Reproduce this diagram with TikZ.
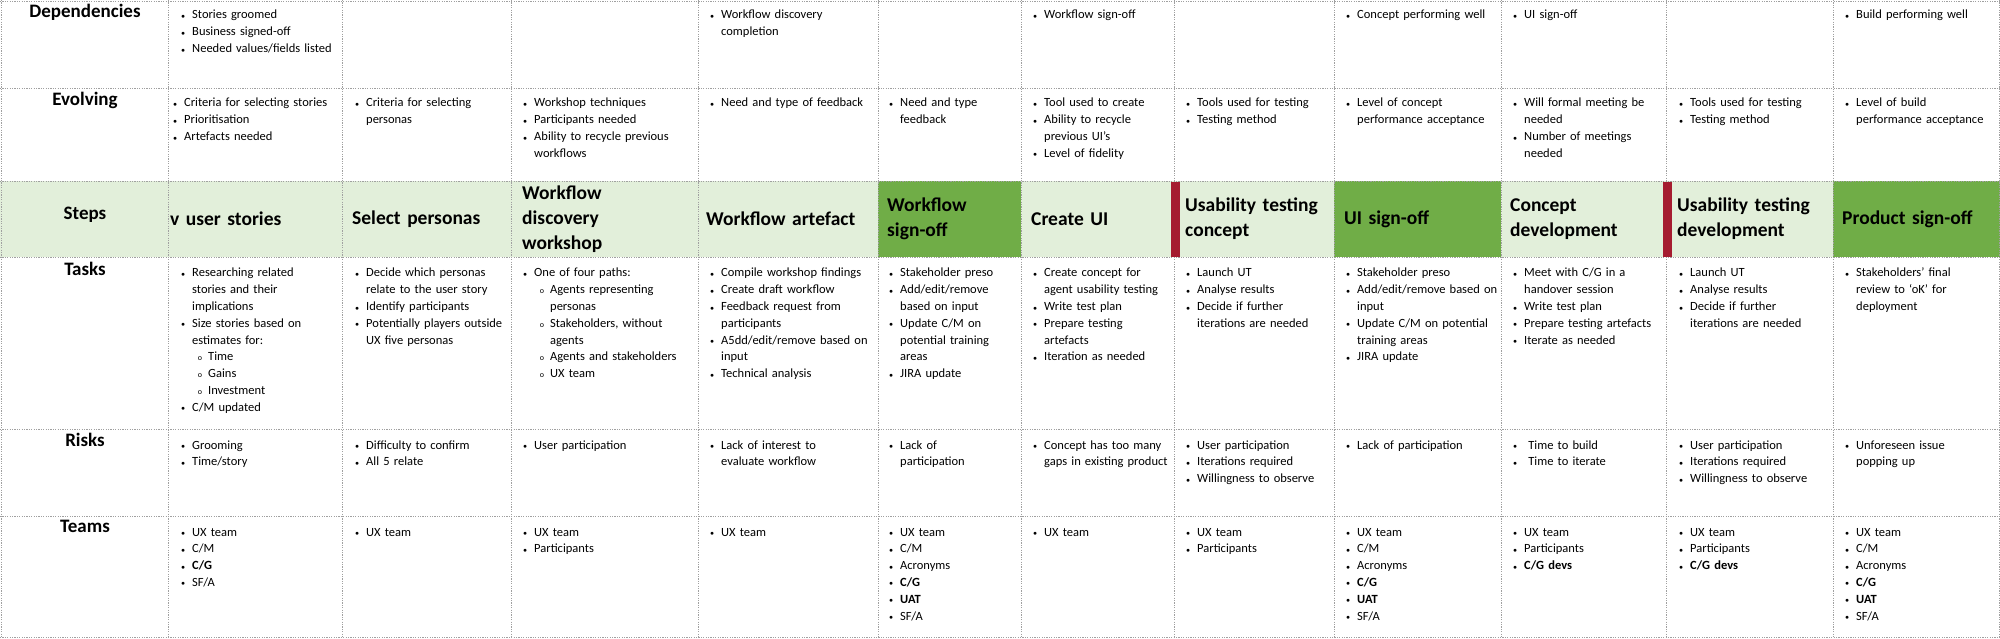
\documentclass[tikz,border=0pt]{standalone}
\usepackage{fontspec}
\setmainfont{Carlito}
\usepackage{enumitem}
\setlist[itemize]{nosep,leftmargin=14pt,labelsep=7pt,label={\raisebox{0.5pt}{\scriptsize$\bullet$}}}
\setlist[itemize,2]{nosep,leftmargin=16pt,labelsep=6pt,label={\footnotesize o}}
\definecolor{lightg}{HTML}{E2EFDA}
\definecolor{darkg}{HTML}{70AD47}
\definecolor{redbar}{HTML}{A51C30}
\definecolor{gridc}{HTML}{A0A0A0}
\tikzset{
 grid/.style={draw=gridc,line width=0.6pt,dash pattern=on 1.2pt off 1.2pt},
 cell/.style={anchor=north west,inner sep=0pt,text width=#1,align=left,font=\fontsize{12.5}{16.8}\selectfont},
 rowlab/.style={anchor=north,inner sep=0pt,font=\fontsize{19}{22}\selectfont\bfseries},
 step/.style={anchor=west,inner sep=0pt,text width=#1,align=left,font=\fontsize{19.5}{25}\selectfont\bfseries},
}
\newcommand{\bl}[1]{\begin{itemize}#1\end{itemize}}
\begin{document}
\begin{tikzpicture}[x=1pt,y=-1pt]
\useasboundingbox (0,0) rectangle (2000,639);
% step fills
\fill[lightg] (0,181) rectangle (878,257);
\fill[darkg] (878,181) rectangle (1021,257);
\fill[lightg] (1021,181) rectangle (1334,257);
\fill[darkg] (1334,181) rectangle (1501,257);
\fill[lightg] (1501,181) rectangle (1833,257);
\fill[darkg] (1833,181) rectangle (2000,257);
% grid
\foreach \y in {1,88,181,257,429,516,637} \draw[grid] (0,\y) -- (2000,\y);
\foreach \x in {1,168,342,511,698,878,1021,1174,1334,1501,1666,1833,1999} \draw[grid] (\x,0) -- (\x,637);
\fill[redbar] (1171,182) rectangle (1180,257);
\fill[redbar] (1663,182) rectangle (1672,257);
% row labels
\node[rowlab] (lDep) at (85,4) {Dependencies};
\node[rowlab] (lEvo) at (85,92) {Evolving};
\node[rowlab] (lSte) at (85,207) {Steps};
\node[rowlab] (lTas) at (85,262) {Tasks};
\node[rowlab] (lRis) at (85,433) {Risks};
\node[rowlab] (lTea) at (85,520) {Teams};
% steps
\node[step=170] (s1) at (170,219) {v user stories};
\node[step=160] (s2) at (352,219) {Select personas};
\node[step=170] (s3) at (522,219) {Workflow\\discovery\\workshop};
\node[step=172] (s4) at (706,219) {Workflow artefact};
\node[step=135] (s5) at (887,219) {Workflow\\sign-off};
\node[step=145] (s6) at (1031,219) {Create UI};
\node[step=150] (s7) at (1185,219) {Usability testing\\concept};
\node[step=160] (s8) at (1344,219) {UI sign-off};
\node[step=160] (s9) at (1510,219) {Concept\\development};
\node[step=160] (s10) at (1677,219) {Usability testing\\development};
\node[step=165] (s11) at (1842,219) {Product sign-off};
% Dependencies
\node[cell=162] (d1) at (178,2) {\bl{\item Stories groomed \item Business signed-off \item Needed values/fields listed}};
\node[cell=170] (d4) at (707,2) {\bl{\item Workflow discovery completion}};
\node[cell=140] (d6) at (1030,2) {\bl{\item Workflow sign-off}};
\node[cell=150] (d8) at (1343,2) {\bl{\item Concept performing well}};
\node[cell=150] (d9) at (1510,2) {\bl{\item UI sign-off}};
\node[cell=160] (d11) at (1842,2) {\bl{\item Build performing well}};
% Evolving
\node[cell=162] (e1) at (170,90) {\bl{\item Criteria for selecting stories \item Prioritisation \item Artefacts needed}};
\node[cell=150] (e2) at (352,90) {\bl{\item Criteria for selecting personas}};
\node[cell=175] (e3) at (520,90) {\bl{\item Workshop techniques \item Participants needed \item Ability to recycle previous workflows}};
\node[cell=170] (e4) at (707,90) {\bl{\item Need and type of feedback}};
\node[cell=120] (e5) at (886,90) {\bl{\item Need and type feedback}};
\node[cell=140] (e6) at (1030,90) {\bl{\item Tool used to create \item Ability to recycle previous UI’s \item Level of fidelity}};
\node[cell=150] (e7) at (1183,90) {\bl{\item Tools used for testing \item Testing method}};
\node[cell=150] (e8) at (1343,90) {\bl{\item Level of concept performance acceptance}};
\node[cell=155] (e9) at (1510,90) {\bl{\item Will formal meeting be needed \item Number of meetings needed}};
\node[cell=150] (e10) at (1676,90) {\bl{\item Tools used for testing \item Testing method}};
\node[cell=150] (e11) at (1842,90) {\bl{\item Level of build performance acceptance}};
% Tasks
\node[cell=150] (t1) at (178,260) {\bl{\item Researching related stories and their implications \item Size stories based on estimates for: \bl{\item Time \item Gains \item Investment} \item C/M updated}};
\node[cell=158] (t2) at (352,260) {\bl{\item Decide which personas relate to the user story \item Identify participants \item Potentially players outside UX five personas}};
\node[cell=172] (t3) at (520,260) {\bl{\item One of four paths: \bl{\item Agents representing personas \item Stakeholders, without agents \item Agents and stakeholders \item UX team}}};
\node[cell=172] (t4) at (707,260) {\bl{\item Compile workshop findings \item Create draft workflow \item Feedback request from participants \item A5dd/edit/remove based on input \item Technical analysis}};
\node[cell=125] (t5) at (886,260) {\bl{\item Stakeholder preso \item Add/edit/remove based on input \item Update C/M on potential training areas \item JIRA update}};
\node[cell=140] (t6) at (1030,260) {\bl{\item Create concept for agent usability testing \item Write test plan \item Prepare testing artefacts \item Iteration as needed}};
\node[cell=150] (t7) at (1183,260) {\bl{\item Launch UT \item Analyse results \item Decide if further iterations are needed}};
\node[cell=158] (t8) at (1343,260) {\bl{\item Stakeholder preso \item Add/edit/remove based on input \item Update C/M on potential training areas \item JIRA update}};
\node[cell=150] (t9) at (1510,260) {\bl{\item Meet with C/G in a handover session \item Write test plan \item Prepare testing artefacts \item Iterate as needed}};
\node[cell=150] (t10) at (1676,260) {\bl{\item Launch UT \item Analyse results \item Decide if further iterations are needed}};
\node[cell=140] (t11) at (1842,260) {\bl{\item Stakeholders’ final review to ‘oK’ for deployment}};
% Risks
\node[cell=150] (r1) at (178,432) {\bl{\item Grooming \item Time/story}};
\node[cell=158] (r2) at (352,432) {\bl{\item Difficulty to confirm \item All 5 relate}};
\node[cell=172] (r3) at (520,432) {\bl{\item User participation}};
\node[cell=150] (r4) at (707,432) {\bl{\item Lack of interest to evaluate workflow}};
\node[cell=110] (r5) at (886,432) {\bl{\item Lack of participation}};
\node[cell=140] (r6) at (1030,432) {\bl{\item Concept has too many gaps in existing product}};
\node[cell=135] (r7) at (1183,432) {\bl{\item User participation \item Iterations required \item Willingness to observe}};
\node[cell=158] (r8) at (1343,432) {\bl{\item Lack of participation}};
\node[cell=150] (r9) at (1510,432) {\bl{\item \ Time to build \item \ Time to iterate}};
\node[cell=155] (r10) at (1676,432) {\bl{\item User participation \item Iterations required \item Willingness to observe}};
\node[cell=140] (r11) at (1842,432) {\bl{\item Unforeseen issue popping up}};
% Teams
\node[cell=150] (m1) at (178,519) {\bl{\item UX team \item C/M \item \textbf{C/G} \item SF/A}};
\node[cell=150] (m2) at (352,519) {\bl{\item UX team}};
\node[cell=150] (m3) at (520,519) {\bl{\item UX team \item Participants}};
\node[cell=150] (m4) at (707,519) {\bl{\item UX team}};
\node[cell=120] (m5) at (886,519) {\bl{\item UX team \item C/M \item Acronyms \item \textbf{C/G} \item \textbf{UAT} \item SF/A}};
\node[cell=140] (m6) at (1030,519) {\bl{\item UX team}};
\node[cell=140] (m7) at (1183,519) {\bl{\item UX team \item Participants}};
\node[cell=150] (m8) at (1343,519) {\bl{\item UX team \item C/M \item Acronyms \item \textbf{C/G} \item \textbf{UAT} \item SF/A}};
\node[cell=150] (m9) at (1510,519) {\bl{\item UX team \item Participants \item \textbf{C/G devs}}};
\node[cell=150] (m10) at (1676,519) {\bl{\item UX team \item Participants \item \textbf{C/G devs}}};
\node[cell=150] (m11) at (1842,519) {\bl{\item UX team \item C/M \item Acronyms \item \textbf{C/G} \item \textbf{UAT} \item SF/A}};
\end{tikzpicture}
\end{document}
